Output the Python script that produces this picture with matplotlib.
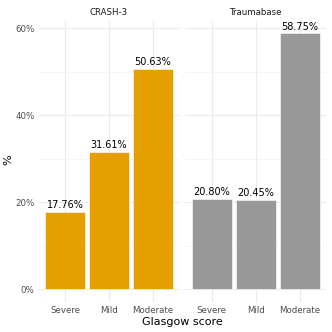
import numpy as np
import matplotlib.pyplot as plt

# data
categories = ["Severe", "Mild", "Moderate"]
crash3 = [17.76, 31.61, 50.63]
traumabase = [20.80, 20.45, 58.75]
panels = ["CRASH-3", "Traumabase"]
colors = ["#E69F00", "#999999"]

W = H = 332
fig = plt.figure(figsize=(W / 100, H / 100), dpi=100)

def px_axes(x0, y0, x1, y1):
    return fig.add_axes([x0 / W, 1 - y1 / H, (x1 - x0) / W, (y1 - y0) / H])

ymax = max(max(crash3), max(traumabase))
ylim = (-0.05 * ymax, ymax * 1.05)

boxes = [(38.6, 20.7, 179.4, 302), (185.3, 20.7, 326.4, 302)]
for k, (vals, name, col) in enumerate(zip([crash3, traumabase], panels, colors)):
    ax = px_axes(*boxes[k])
    x = np.arange(len(categories))
    ax.bar(x, vals, width=0.9, color=col, edgecolor="white", linewidth=0.4, zorder=3)
    for xi, v in zip(x, vals):
        ax.text(xi, v + 0.4, f"{v:.2f}%", ha="center", va="bottom", fontsize=7, color="black", zorder=4)
    ax.set_xlim(-0.6, len(categories) - 0.4)
    ax.set_ylim(*ylim)
    ax.set_yticks([0, 20, 40, 60])
    ax.set_yticks([10, 30, 50], minor=True)
    ax.set_xticks(x)
    ax.set_xticklabels(categories, fontsize=6.2, color="#4D4D4D")
    ax.grid(True, which="major", color="#EBEBEB", linewidth=0.8, zorder=0)
    ax.grid(True, which="minor", axis="y", color="#F3F3F3", linewidth=0.5, zorder=0)
    ax.tick_params(axis="both", which="both", length=0, pad=3)
    ax.tick_params(axis="y", pad=3)
    for s in ax.spines.values():
        s.set_visible(False)
    if k == 0:
        ax.set_yticklabels(["0%", "20%", "40%", "60%"], fontsize=6.2, color="#4D4D4D")
    else:
        ax.set_yticklabels([])
    ax.set_title(name, fontsize=6.2, color="#1A1A1A", pad=4)

fig.text(8 / W, 1 - 160 / H, "%", rotation=90, ha="center", va="center", fontsize=8)
fig.text(182.5 / W, 1 - 322 / H, "Glasgow score", ha="center", va="center", fontsize=8)

fig.savefig("out.png", dpi=100)
